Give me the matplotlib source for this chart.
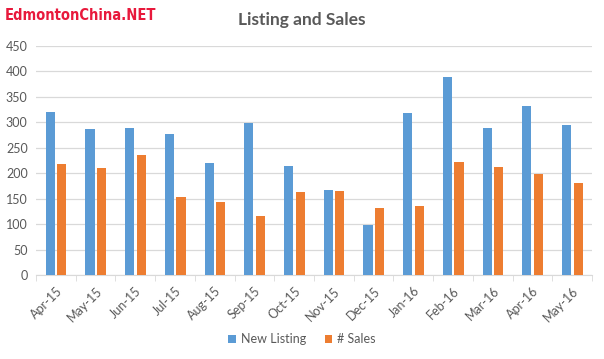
import numpy as np
import matplotlib
matplotlib.use('Agg')
import matplotlib.pyplot as plt

# data
months = ['Apr-15', 'May-15', 'Jun-15', 'Jul-15', 'Aug-15', 'Sep-15', 'Oct-15',
          'Nov-15', 'Dec-15', 'Jan-16', 'Feb-16', 'Mar-16', 'Apr-16', 'May-16']
new_listing = [320, 287, 289, 277, 220, 299, 214, 167, 99, 318, 389, 289, 332, 295]
sales = [218, 211, 236, 153, 143, 116, 163, 165, 132, 136, 222, 212, 199, 181]

plt.rcParams['font.family'] = ['Lato', 'DejaVu Sans']

fig = plt.figure(figsize=(6.04, 3.59), dpi=100)
ax = fig.add_axes([36 / 604, 84 / 359, 556 / 604, 229 / 359])

x = np.arange(len(months))
w = 0.23
ax.bar(x - 0.14, new_listing, w, color='#5B9BD5', label='New Listing', zorder=3)
ax.bar(x + 0.15, sales, w, color='#ED7D31', label='# Sales', zorder=3)

ax.set_xlim(-0.5, len(months) - 0.5)
ax.set_ylim(0, 450)
ax.set_yticks(range(0, 451, 50))
ax.yaxis.grid(True, color='#D9D9D9', linewidth=0.9, zorder=0)
ax.tick_params(axis='y', length=0, labelsize=9, labelcolor='#595959', pad=6)

ax.set_xticks(x)
ax.set_xticklabels(months, rotation=45, ha='right', rotation_mode='anchor')
ax.tick_params(axis='x', length=0, labelsize=9, labelcolor='#595959', pad=7)
# small tick marks at category boundaries
ax.set_xticks(np.arange(-0.5, len(months), 1), minor=True)
ax.tick_params(axis='x', which='minor', length=4, color='#D9D9D9')

for s in ['top', 'right', 'left']:
    ax.spines[s].set_visible(False)
ax.spines['bottom'].set_color('#D9D9D9')

fig.text(0.5, 0.945, 'Listing and Sales', ha='center', va='center',
         fontsize=12.5, color='#595959', fontweight='bold')
fig.text(0.008, 0.958, 'EdmontonChina.NET', ha='left', va='center',
         fontsize=10.5, color='#E8193C', fontweight='bold',
         family='DejaVu Sans', fontstretch='condensed')

leg = fig.legend(loc='center', bbox_to_anchor=(0.5, 0.055), ncol=2, frameon=False,
                 fontsize=9, handlelength=0.6, handleheight=0.6, columnspacing=1.5,
                 handletextpad=0.4)
for t in leg.get_texts():
    t.set_color('#595959')

fig.savefig('out.png', dpi=100)
